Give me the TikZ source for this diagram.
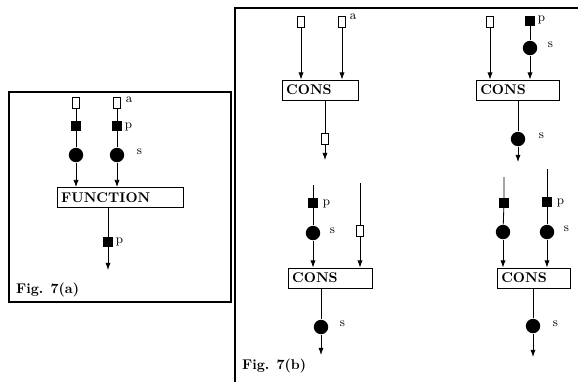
\documentclass[tikz,border=0pt]{standalone}
\usetikzlibrary{arrows.meta}

\tikzset{
  wtok/.style={draw, fill=white, minimum width=0.18cm, minimum height=0.28cm, inner sep=0pt},
  ptok/.style={draw, fill=black, minimum size=0.22cm, inner sep=0pt},
  stok/.style={circle, fill=black, minimum size=0.36cm, inner sep=0pt},
  opbox/.style={draw, font=\bfseries, inner xsep=3pt, inner ysep=1pt, minimum height=0.5cm, text width=#1, align=left},
  lbl/.style={anchor=west, font=\small, inner sep=1pt},
  flow/.style={-{Latex[length=1.8mm,width=1.3mm]}},
}

\begin{document}
\begin{tikzpicture}[x=0.025cm, y=-0.025cm, semithick]
  \useasboundingbox (0,0) rectangle (580,382);
  % frames
  \draw[thick] (9,92) rectangle (231,302);
  \draw[thick] (578,8) -- (235,8) -- (235,382);

  % ---- Fig. 7(a)
  \node[wtok] (a1w) at (76,103) {};
  \node[wtok] (a2w) at (117,103) {};
  \node[ptok] (a1p) at (76,126) {};
  \node[ptok] (a2p) at (117,126) {};
  \node[stok] (a1s) at (76,155) {};
  \node[stok] (a2s) at (117,155) {};
  \node[opbox=2.94cm] (fun) at (120,197.5) {FUNCTION};
  \node[ptok] (aop) at (108,242) {};
  \coordinate (aout) at (108,270);
  \draw (a1w) -- (a1p) -- (a1s);
  \draw (a2w) -- (a2p) -- (a2s);
  \draw[flow] (a1s) -- (a1s |- fun.north);
  \draw[flow] (a2s) -- (a2s |- fun.north);
  \draw (fun.south -| aop) -- (aop);
  \draw[flow] (aop) -- (aout);
  \node[lbl] (la) at (124,100) {a};
  \node[lbl] (lp) at (123,127) {p};
  \node[lbl] (ls) at (135,152) {s};
  \node[lbl] (lop) at (114,242) {p};
  \node[anchor=west, font=\bfseries] (figa) at (11,290) {Fig. 7(a)};

  % ---- Fig. 7(b), top left
  \node[wtok] (b1w) at (301,22) {};
  \node[wtok] (b2w) at (342,22) {};
  \node[opbox=1.69cm] (cons1) at (320,90) {CONS};
  \node[wtok] (b1o) at (325,139) {};
  \coordinate (b1out) at (325,160);
  \draw[flow] (b1w) -- (b1w |- cons1.north);
  \draw[flow] (b2w) -- (b2w |- cons1.north);
  \draw (cons1.south -| b1o) -- (b1o);
  \draw[flow] (b1o) -- (b1out);
  \node[lbl] (lb1a) at (348,17) {a};

  % ---- top right
  \node[wtok] (c1w) at (490,22) {};
  \node[ptok] (c2p) at (530,21) {};
  \node[stok] (c2s) at (530,48) {};
  \node[opbox=1.86cm] (cons2) at (517.5,90) {CONS};
  \node[stok] (c1o) at (518,139) {};
  \coordinate (c1out) at (518,162);
  \draw[flow] (c1w) -- (c1w |- cons2.north);
  \draw (c2p) -- (c2s);
  \draw[flow] (c2s) -- (c2s |- cons2.north);
  \draw (cons2.south -| c1o) -- (c1o);
  \draw[flow] (c1o) -- (c1out);
  \node[lbl] (lc2p) at (536,20) {p};
  \node[lbl] (lc2s) at (546,45) {s};
  \node[lbl] (lc1o) at (537,136) {s};

  % ---- bottom left
  \coordinate (d1top) at (313,185);
  \coordinate (d2top) at (360,183);
  \node[ptok] (d1p) at (313,203) {};
  \node[stok] (d1s) at (313,233) {};
  \node[wtok] (d2w) at (360,231) {};
  \node[opbox=1.89cm] (cons3) at (330,278) {CONS};
  \node[stok] (d1o) at (321,327) {};
  \coordinate (d1out) at (321,355);
  \draw (d1top) -- (d1p) -- (d1s);
  \draw[flow] (d1s) -- (d1s |- cons3.north);
  \draw (d2top) -- (d2w);
  \draw[flow] (d2w) -- (d2w |- cons3.north);
  \draw (cons3.south -| d1o) -- (d1o);
  \draw[flow] (d1o) -- (d1out);
  \node[lbl] (ld1p) at (321,204) {p};
  \node[lbl] (ld1s) at (328,231) {s};
  \node[lbl] (ld1o) at (338,324) {s};
  \node[anchor=west, font=\bfseries] (figb) at (237,366) {Fig. 7(b)};

  % ---- bottom right
  \coordinate (e1top) at (504,177);
  \coordinate (e2top) at (547,169);
  \node[ptok] (e1p) at (504,203) {};
  \node[ptok] (e2p) at (547,202) {};
  \node[stok] (e1s) at (503,232) {};
  \node[stok] (e2s) at (547,232) {};
  \node[opbox=1.61cm] (cons4) at (533.5,278) {CONS};
  \node[stok] (e1o) at (533,326) {};
  \coordinate (e1out) at (533,357);
  \draw (e1top) -- (e1p) -- (e1s);
  \draw (e2top) -- (e2p) -- (e2s);
  \draw[flow] (e1s) -- (e1s |- cons4.north);
  \draw[flow] (e2s) -- (e2s |- cons4.north);
  \draw (cons4.south -| e1o) -- (e1o);
  \draw[flow] (e1o) -- (e1out);
  \node[lbl] (le2p) at (555,203) {p};
  \node[lbl] (le2s) at (562,229) {s};
  \node[lbl] (le1o) at (551,324) {s};
\end{tikzpicture}
\end{document}
